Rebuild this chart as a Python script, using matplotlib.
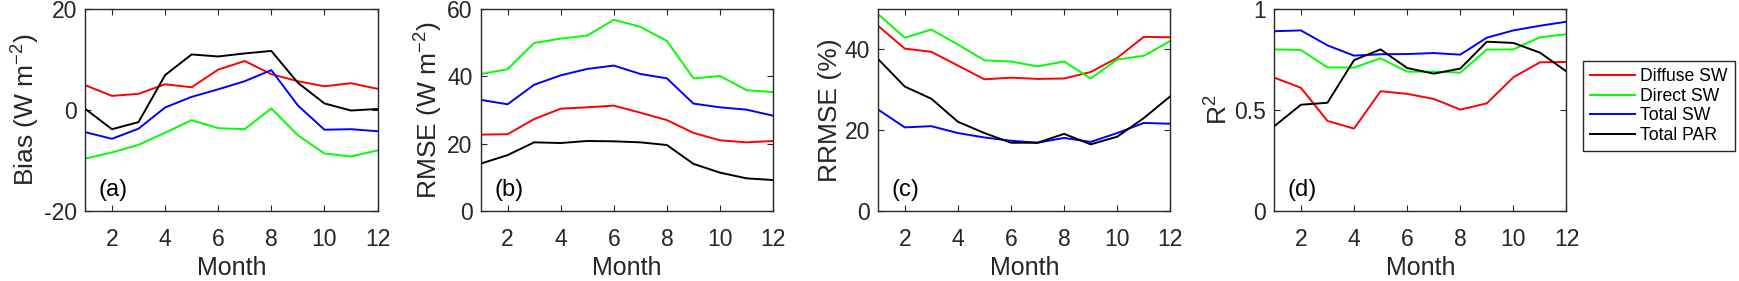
import numpy as np
import matplotlib
matplotlib.use("Agg")
import matplotlib.pyplot as plt

plt.rcParams['font.family'] = ['Liberation Sans', 'DejaVu Sans']
plt.rcParams['mathtext.fontset'] = 'custom'
plt.rcParams['mathtext.rm'] = 'Liberation Sans'

months = np.arange(1, 13)
series_names = ['Diffuse SW', 'Direct SW', 'Total SW', 'Total PAR']
series_colors = ['#ff0000', '#00ff00', '#0000ff', '#000000']

# (a) Bias
bias_diffuse = [4.9, 2.8, 3.2, 5.1, 4.5, 8.0, 9.7, 7.1, 5.7, 4.7, 5.3, 4.2]
bias_direct = [-9.6, -8.4, -6.9, -4.5, -2.0, -3.6, -3.8, 0.3, -5.0, -8.6, -9.2, -8.0]
bias_total = [-4.4, -5.7, -3.7, 0.5, 2.6, 4.1, 5.7, 7.9, 0.9, -3.9, -3.8, -4.2]
bias_par = [0.2, -3.8, -2.4, 6.9, 11.0, 10.6, 11.2, 11.7, 5.4, 1.3, -0.1, 0.2]

# (b) RMSE
rmse_diffuse = [22.7, 22.8, 27.3, 30.4, 30.8, 31.3, 29.2, 27.0, 23.2, 21.0, 20.4, 20.8]
rmse_direct = [40.7, 42.1, 49.9, 51.2, 52.1, 56.8, 54.7, 50.5, 39.4, 40.1, 35.9, 35.3]
rmse_total = [33.0, 31.7, 37.5, 40.3, 42.2, 43.2, 40.7, 39.4, 31.9, 30.8, 30.1, 28.3]
rmse_par = [14.1, 16.6, 20.4, 20.2, 20.8, 20.7, 20.4, 19.6, 14.0, 11.4, 9.7, 9.2]

# (c) RRMSE
rrmse_diffuse = [45.8, 40.2, 39.4, 36.0, 32.6, 33.0, 32.7, 32.8, 34.4, 37.9, 43.1, 43.0]
rrmse_direct = [48.7, 42.9, 44.9, 41.2, 37.3, 37.0, 35.8, 37.0, 32.8, 37.5, 38.4, 42.1]
rrmse_total = [25.1, 20.7, 21.0, 19.3, 18.2, 17.4, 16.9, 18.1, 17.1, 19.3, 21.8, 21.6]
rrmse_par = [37.6, 30.8, 27.8, 22.1, 19.3, 16.9, 16.9, 19.1, 16.5, 18.4, 23.0, 28.4]

# (d) R2
r2_diffuse = [0.66, 0.61, 0.446, 0.408, 0.593, 0.58, 0.555, 0.502, 0.533, 0.662, 0.736, 0.738]
r2_direct = [0.80, 0.797, 0.711, 0.710, 0.756, 0.69, 0.69, 0.685, 0.799, 0.80, 0.86, 0.875]
r2_total = [0.89, 0.894, 0.82, 0.769, 0.776, 0.777, 0.782, 0.774, 0.858, 0.894, 0.917, 0.937]
r2_par = [0.42, 0.526, 0.536, 0.747, 0.80, 0.708, 0.68, 0.705, 0.838, 0.832, 0.784, 0.691]

panels = [
    ([bias_diffuse, bias_direct, bias_total, bias_par], 'Bias (W m$^{-2}$)', (-20, 20), [-20, 0, 20], ['-20', '0', '20'], '(a)'),
    ([rmse_diffuse, rmse_direct, rmse_total, rmse_par], 'RMSE (W m$^{-2}$)', (0, 60), [0, 20, 40, 60], ['0', '20', '40', '60'], '(b)'),
    ([rrmse_diffuse, rrmse_direct, rrmse_total, rrmse_par], 'RRMSE (%)', (0, 50), [0, 20, 40], ['0', '20', '40'], '(c)'),
    ([r2_diffuse, r2_direct, r2_total, r2_par], 'R$^2$', (0, 1), [0, 0.5, 1], ['0', '0.5', '1'], '(d)'),
]

lefts = [0.0491, 0.2766, 0.505, 0.7328]
fig = plt.figure(figsize=(17.39, 2.81), dpi=100)
edge = '#262626'

for i, (data, ylabel, ylim, yticks, ylabs, tag) in enumerate(panels):
    ax = fig.add_axes([lefts[i], 0.249, 0.168, 0.719])
    for vals, name, c in zip(data, series_names, series_colors):
        ax.plot(months, vals, color=c, lw=1.4, label=name)
    ax.set_xlim(1, 12)
    ax.set_ylim(*ylim)
    ax.set_xticks([2, 4, 6, 8, 10, 12])
    ax.set_yticks(yticks)
    ax.set_yticklabels(ylabs)
    ax.tick_params(direction='in', top=True, right=True, labelsize=16.5,
                   colors=edge, length=4, width=0.8)
    ax.tick_params(axis='x', pad=12)
    ax.tick_params(axis='y', pad=6)
    for sp in ax.spines.values():
        sp.set_color(edge)
        sp.set_linewidth(1.0)
    ax.set_xlabel('Month', fontsize=18, color=edge, labelpad=4)
    ax.set_ylabel(ylabel, fontsize=19, color=edge, labelpad=2)
    ax.text(0.045, 0.075, tag, transform=ax.transAxes, fontsize=17, color='k')
    if i == 3:
        leg = ax.legend(loc='upper left', bbox_to_anchor=(0.9103, 0.783),
                        bbox_transform=fig.transFigure, fontsize=12.7,
                        handlelength=2.55, fancybox=False, framealpha=1,
                        borderpad=0.4, labelspacing=0.15, handletextpad=0.3,
                        borderaxespad=0)
        leg.get_frame().set_edgecolor(edge)
        leg.get_frame().set_linewidth(1.0)

fig.savefig('out.png', dpi=100)
